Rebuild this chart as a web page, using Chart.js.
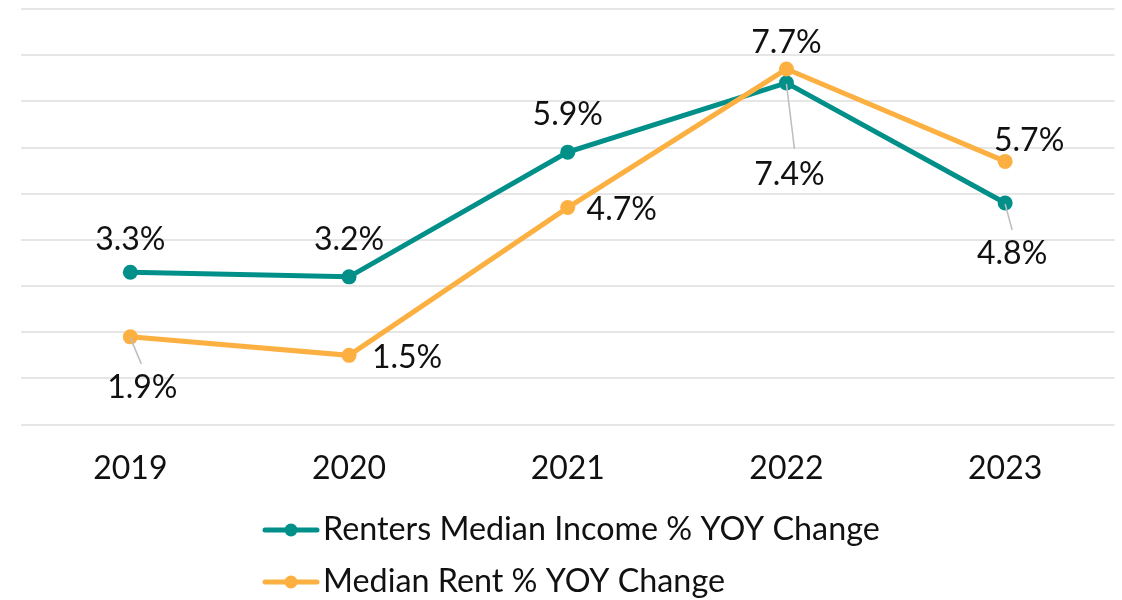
<!DOCTYPE html>
<html>
<head>
<meta charset="utf-8">
<script src="https://cdn.jsdelivr.net/npm/chart.js@4.4.1/dist/chart.umd.min.js"></script>
<style>
  html, body { margin: 0; padding: 0; background: #fff; }
  #wrap { width: 1122px; height: 600px; }
</style>
</head>
<body>
<div id="wrap"><canvas id="yoyChart"></canvas></div>
<script>
// data
const years = ['2019', '2020', '2021', '2022', '2023'];
const incomeChange = [3.3, 3.2, 5.9, 7.4, 4.8];
const rentChange = [1.9, 1.5, 4.7, 7.7, 5.7];
const seriesNames = ['Renters Median Income % YOY Change', 'Median Rent % YOY Change'];

const teal = '#009089';
const orange = '#fcb042';

// where each value label goes, relative to its point (dx, dy, leader end or null)
const labelPlace = [
    [[0, -33, null], [0, -37, null], [0, -37, null], [3, 92, [8, 66]], [7, 51, [7, 27]]],
    [[12, 51, [11, 27]], [58, 2, null], [54, 2, null], [0, -26, null], [24, -21, null]]
];

const valueLabels = {
    id: 'valueLabels',
    afterDatasetsDraw(chart) {
        const ctx = chart.ctx;
        ctx.save();
        chart.data.datasets.forEach((ds, di) => {
            const meta = chart.getDatasetMeta(di);
            meta.data.forEach((pt, i) => {
                const p = labelPlace[di][i];
                if (p[2]) {
                    ctx.strokeStyle = '#bdbdbd';
                    ctx.lineWidth = 1.5;
                    ctx.beginPath();
                    ctx.moveTo(pt.x, pt.y + 1);
                    ctx.lineTo(pt.x + p[2][0], pt.y + p[2][1]);
                    ctx.stroke();
                }
                ctx.fillStyle = '#111';
                ctx.font = '32px Lato';
                ctx.textAlign = 'center';
                ctx.textBaseline = 'middle';
                ctx.fillText(ds.data[i].toFixed(1) + '%', pt.x + p[0], pt.y + p[1]);
            });
        });
        ctx.restore();
    }
};

// legend with line + dot marker, rows left aligned
const lineLegend = {
    id: 'lineLegend',
    afterDraw(chart) {
        const ctx = chart.ctx;
        const x0 = 265;
        const rows = [530, 582];
        ctx.save();
        chart.data.datasets.forEach((ds, di) => {
            const y = rows[di];
            ctx.strokeStyle = ds.borderColor;
            ctx.lineWidth = 5;
            ctx.lineCap = 'round';
            ctx.beginPath();
            ctx.moveTo(x0, y);
            ctx.lineTo(x0 + 52, y);
            ctx.stroke();
            ctx.fillStyle = ds.borderColor;
            ctx.beginPath();
            ctx.arc(x0 + 26, y, 6.5, 0, Math.PI * 2);
            ctx.fill();
            ctx.fillStyle = '#111';
            ctx.font = '32.3px Lato';
            ctx.textAlign = 'left';
            ctx.textBaseline = 'middle';
            ctx.fillText(ds.label, x0 + 58, y);
        });
        ctx.restore();
    }
};

new Chart(document.getElementById('yoyChart'), {
    type: 'line',
    data: {
        labels: years,
        datasets: [{
            label: seriesNames[0],
            data: incomeChange,
            borderColor: teal,
            backgroundColor: teal,
            borderWidth: 5,
            pointRadius: 7.5,
            pointHoverRadius: 7.5,
            pointBorderWidth: 0,
            order: 2
        }, {
            label: seriesNames[1],
            data: rentChange,
            borderColor: orange,
            backgroundColor: orange,
            borderWidth: 5,
            pointRadius: 7.5,
            pointHoverRadius: 7.5,
            pointBorderWidth: 0,
            order: 1
        }]
    },
    options: {
        responsive: true,
        maintainAspectRatio: false,
        animation: false,
        layout: {
            padding: { left: 21, right: 6, top: 9, bottom: 87 }
        },
        plugins: {
            legend: { display: false },
            tooltip: { enabled: false }
        },
        scales: {
            x: {
                offset: true,
                grid: { display: false, drawTicks: false },
                border: { display: false },
                ticks: {
                    color: '#111',
                    padding: 25,
                    font: { family: 'Lato', size: 32 }
                }
            },
            y: {
                min: 0,
                max: 9,
                border: { display: false },
                grid: { color: '#e6e6e6', lineWidth: 2, drawTicks: false },
                ticks: { display: false, stepSize: 1 }
            }
        }
    },
    plugins: [valueLabels, lineLegend]
});
</script>
</body>
</html>
